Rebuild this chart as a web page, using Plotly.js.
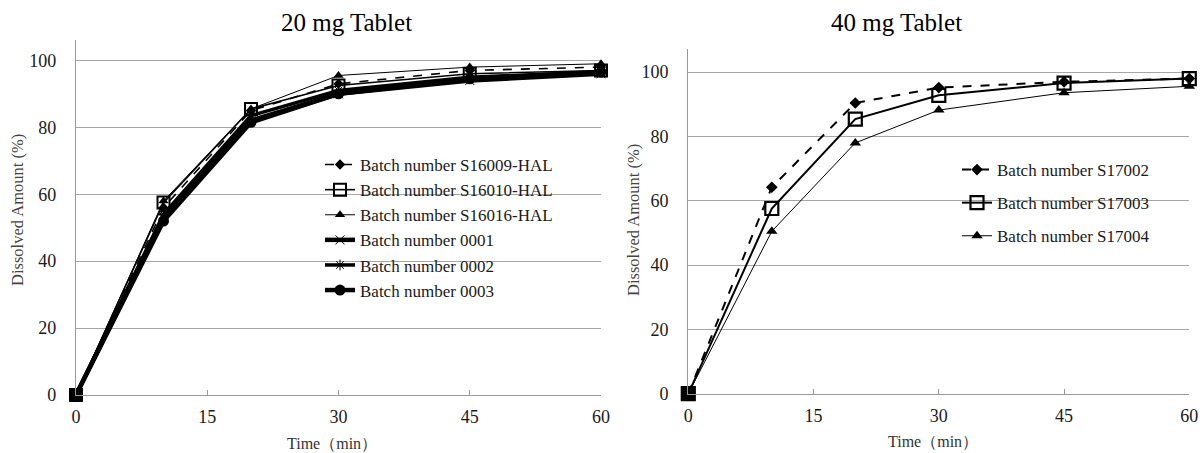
<!DOCTYPE html>
<html>
<head>
<meta charset="utf-8">
<script src="https://cdn.plot.ly/plotly-3.0.1.min.js"></script>
<style>html,body{margin:0;padding:0;background:#fff;}#chart{width:1202px;height:453px;}</style>
</head>
<body>
<div id="chart"></div>
<script>
// ---- data ----
const times = [0, 10, 20, 30, 45, 60];
const xTicks = [0, 15, 30, 45, 60];
const yTicks = [0, 20, 40, 60, 80, 100];

// 20 mg Tablet
const names20 = ["Batch number S16009-HAL", "Batch number S16010-HAL", "Batch number S16016-HAL",
                 "Batch number 0001", "Batch number 0002", "Batch number 0003"];
const s16009 = [0, 56, 85, 93, 97, 98];
const s16010 = [0, 57.5, 85.5, 92.5, 96, 97];
const s16016 = [0, 58, 85.5, 95.5, 98, 99];
const b0001  = [0, 53, 82, 90, 94, 96];
const b0002  = [0, 54, 83.5, 91, 95, 96.5];
const b0003  = [0, 52, 81.5, 90, 94.5, 96.5];

// 40 mg Tablet
const names40 = ["Batch number S17002", "Batch number S17003", "Batch number S17004"];
const s17002 = [0, 64.2, 90.4, 95.2, 97, 98];
const s17003 = [0, 57.6, 85.4, 92.8, 96.6, 98];
const s17004 = [0, 50.5, 78, 88.2, 93.6, 95.6];

const titles = ["20 mg Tablet", "40 mg Tablet"];
const xTitle = "Time（min）";
const yTitle = "Dissolved Amount (%)";

// ---- styles ----
const FONT = "Liberation Serif, Times New Roman, serif";
const TXT = "#1a1a1a";
const GRID = "#a6a6a6";

function tr(y, name, xa, ya, lg, line, marker, rank) {
  return {x: times, y: y, name: name, type: "scatter", mode: "lines+markers",
          xaxis: xa, yaxis: ya, legend: lg, legendrank: rank, legendgroup: "g" + rank + lg,
          line: line, marker: marker, cliponaxis: false};
}
// square-marker series: points given last-to-first so the legend keeps the open square
// while the origin point (where all markers overlap) is drawn as a solid square
function trSq(y, name, xa, ya, lg, line, size, lw, rank) {
  const t = tr(y.slice().reverse(), name, xa, ya, lg, line,
    {symbol: times.map((v, i) => i === times.length - 1 ? "square" : "square-open").reverse().reverse().map((s, i) => i === times.length - 1 ? "square" : "square-open"),
     size: size, color: "#000", line: {color: "#000", width: lw}}, rank);
  t.x = times.slice().reverse();
  return t;
}

const data = [
  tr(b0001, names20[3], "x", "y", "legend", {color: "#000", width: 4.5}, {symbol: "x-thin-open", size: 9, color: "#000", line: {color: "#555", width: 1}}, 4),
  tr(b0002, names20[4], "x", "y", "legend", {color: "#000", width: 3.5}, {symbol: "asterisk-open", size: 9, color: "#000", line: {color: "#555", width: 1}}, 5),
  tr(b0003, names20[5], "x", "y", "legend", {color: "#000", width: 4.5}, {symbol: "circle", size: 11, color: "#000"}, 6),
  tr(s16016, names20[2], "x", "y", "legend", {color: "#000", width: 1}, {symbol: "triangle-up", size: 9, color: "#000"}, 3),
  trSq(s16010, names20[1], "x", "y", "legend", {color: "#000", width: 1.6}, 12, 2, 2),
  tr(s16009, names20[0], "x", "y", "legend", {color: "#000", width: 1.6, dash: "dash"}, {symbol: "diamond", size: 8, color: "#000"}, 1),

  tr(s17004, names40[2], "x2", "y2", "legend2", {color: "#000", width: 1}, {symbol: "triangle-up", size: 10, color: "#000"}, 3),
  trSq(s17003, names40[1], "x2", "y2", "legend2", {color: "#000", width: 2}, 13, 2.2, 2),
  tr(s17002, names40[0], "x2", "y2", "legend2", {color: "#000", width: 2, dash: "dash"}, {symbol: "diamond", size: 9, color: "#000"}, 1)
];

function xax(domain, anchor) {
  return {domain: domain, anchor: anchor, range: [0, 60], tickvals: xTicks, ticktext: xTicks.map(String),
          showline: true, linecolor: "#999", linewidth: 1.2, ticks: "inside", ticklen: 5, tickcolor: "#999",
          showgrid: false, zeroline: false, fixedrange: true, ticklabelstandoff: 5,
          tickfont: {family: FONT, size: 18, color: TXT}};
}
function yax(domain, anchor, top) {
  return {domain: domain, anchor: anchor, range: [0, top], tickvals: yTicks, ticktext: yTicks.map(String),
          showline: true, linecolor: "#999", linewidth: 1.2, ticks: "", showgrid: true, gridcolor: GRID, gridwidth: 1,
          zeroline: false, fixedrange: true, ticklabelstandoff: 15,
          tickfont: {family: FONT, size: 18, color: TXT}};
}

const W = 1202, H = 453;
const px = v => v / W, py = v => 1 - v / H;

function ann(text, x, y, size, color, angle) {
  return {text: text, xref: "paper", yref: "paper", x: px(x), y: py(y), xanchor: "center", yanchor: "middle",
          showarrow: false, textangle: angle || 0, font: {family: FONT, size: size, color: color}};
}

const layout = {
  width: W, height: H,
  margin: {l: 0, r: 0, t: 0, b: 0},
  paper_bgcolor: "#fff", plot_bgcolor: "#fff",
  showlegend: true,
  xaxis: xax([px(76), px(601)], "y"),
  yaxis: yax([py(395), py(40)], "x", 106.1),
  xaxis2: xax([px(688.3), px(1189.3)], "y2"),
  yaxis2: yax([py(393.7), py(49.3)], "x2", 107.1),
  legend: {x: px(320), y: py(147), xanchor: "left", yanchor: "top", bgcolor: "rgba(0,0,0,0)",
           traceorder: "grouped", tracegroupgap: 0, font: {family: FONT, size: 17, color: TXT}},
  legend2: {x: px(957), y: py(152), xanchor: "left", yanchor: "top", bgcolor: "rgba(0,0,0,0)",
           traceorder: "grouped", tracegroupgap: 8, font: {family: FONT, size: 17, color: TXT}},
  shapes: [
    {type: "rect", xref: "paper", yref: "paper", x0: px(283), x1: px(597), y0: py(300), y1: py(150),
     fillcolor: "#fff", line: {width: 0}, layer: "between"},
    {type: "rect", xref: "paper", yref: "paper", x0: px(921), x1: px(1183), y0: py(250), y1: py(150),
     fillcolor: "#fff", line: {width: 0}, layer: "between"}
  ],
  annotations: [
    ann(titles[0], 346, 22, 25, "#000"),
    ann(titles[1], 896, 22, 25, "#000"),
    ann(xTitle, 332, 443, 16, "#333"),
    ann(xTitle, 933, 441, 16, "#333"),
    ann(yTitle, 18, 210, 16.5, "#444", -90),
    ann(yTitle, 633, 220, 16.5, "#444", -90)
  ]
};

Plotly.newPlot("chart", data, layout, {displayModeBar: false, staticPlot: true});
</script>
</body>
</html>
